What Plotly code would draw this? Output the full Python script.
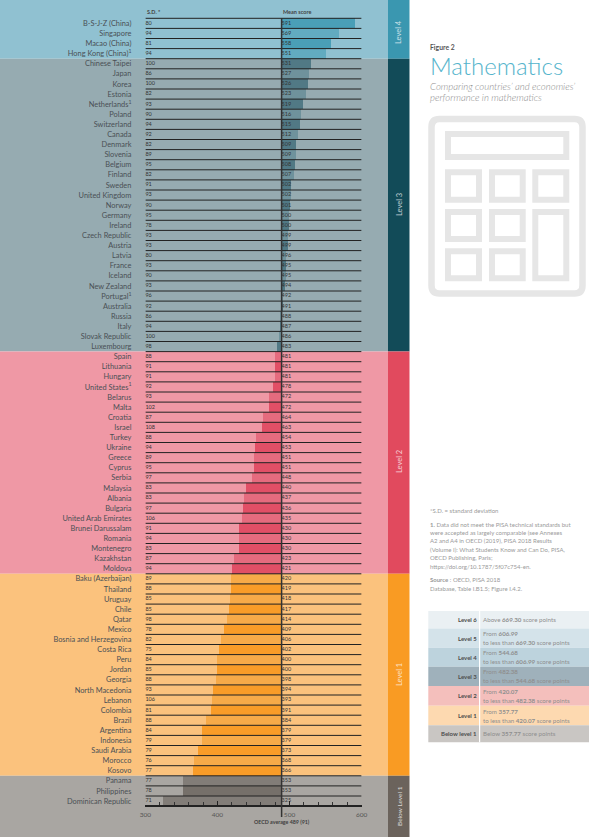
import plotly.graph_objects as go

W, H = 589, 837
FONT = "Lato"

countries = ["B-S-J-Z (China)", "Singapore", "Macao (China)", "Hong Kong (China)<sup>1</sup>",
    "Chinese Taipei", "Japan", "Korea", "Estonia", "Netherlands<sup>1</sup>", "Poland", "Switzerland", "Canada",
    "Denmark", "Slovenia", "Belgium", "Finland", "Sweden", "United Kingdom", "Norway", "Germany", "Ireland",
    "Czech Republic", "Austria", "Latvia", "France", "Iceland", "New Zealand", "Portugal<sup>1</sup>", "Australia",
    "Russia", "Italy", "Slovak Republic", "Luxembourg",
    "Spain", "Lithuania", "Hungary", "United States<sup>1</sup>", "Belarus", "Malta", "Croatia", "Israel", "Turkey",
    "Ukraine", "Greece", "Cyprus", "Serbia", "Malaysia", "Albania", "Bulgaria", "United Arab Emirates",
    "Brunei Darussalam", "Romania", "Montenegro", "Kazakhstan", "Moldova",
    "Baku (Azerbaijan)", "Thailand", "Uruguay", "Chile", "Qatar", "Mexico", "Bosnia and Herzegovina", "Costa Rica",
    "Peru", "Jordan", "Georgia", "North Macedonia", "Lebanon", "Colombia", "Brazil", "Argentina", "Indonesia",
    "Saudi Arabia", "Morocco", "Kosovo",
    "Panama", "Philippines", "Dominican Republic"]
mean_scores = [591, 569, 558, 551,
    531, 527, 526, 523, 519, 516, 515, 512, 509, 509, 508, 507, 502, 502, 501, 500, 500, 499, 499, 496, 495, 495,
    494, 492, 491, 488, 487, 486, 483,
    481, 481, 481, 478, 472, 472, 464, 463, 454, 453, 451, 451, 448, 440, 437, 436, 435, 430, 430, 430, 423, 421,
    420, 419, 418, 417, 414, 409, 406, 402, 400, 400, 398, 394, 393, 391, 384, 379, 379, 373, 368, 366,
    353, 353, 325]
std_devs = [80, 94, 81, 94,
    100, 86, 100, 82, 93, 90, 94, 92, 82, 89, 95, 82, 91, 93, 90, 95, 78, 93, 93, 80, 93, 90,
    93, 96, 92, 86, 94, 100, 98,
    88, 91, 91, 92, 93, 102, 87, 108, 88, 94, 89, 95, 97, 83, 83, 97, 106, 91, 94, 83, 87, 94,
    89, 88, 85, 85, 98, 78, 82, 75, 84, 85, 88, 93, 106, 81, 88, 84, 79, 79, 76, 77,
    77, 78, 71]
oecd_average = 489

level_names = ["Level 4", "Level 3", "Level 2", "Level 1", "Below Level 1"]
level_counts = [4, 29, 22, 20, 3]
band_colors = ["#90C1D1", "#96ABB1", "#EF98A5", "#FBC27D", "#A9A6A2"]
strip_colors = ["#3A97B0", "#124B58", "#E14A5E", "#F99B23", "#6B635C"]
bar_dark = ["#4A9FB7", "#517985", "#E14F66", "#F99C28", "#76706A"]
bar_light = ["#62ABC0", "#6F929C", "#E56B7E", "#F7AA48", "#827D78"]

legend_levels = ["Level 6", "Level 5", "Level 4", "Level 3", "Level 2", "Level 1", "Below level 1"]
legend_line1 = ["Above <b>669.30</b> score points", "From <b>606.99</b>", "From <b>544.68</b>", "From <b>482.38</b>",
                "From <b>420.07</b>", "From <b>357.77</b>", "Below <b>357.77</b> score points"]
legend_line2 = [None, "to less than <b>669.30</b> score points", "to less than <b>606.99</b> score points",
                "to less than <b>544.68</b> score points", "to less than <b>482.38</b> score points",
                "to less than <b>420.07</b> score points", None]
legend_colors = ["#EAF0F3", "#D4E3EA", "#BDD3DD", "#9FB1BB", "#F4BFBC", "#FDD9B0", "#C9C6C3"]
legend_edges = [611, 628.6, 647.7, 666.7, 686, 705.7, 725.3, 742.3]

notes = [(510, "*S.D. = standard deviation"),
         (524, "<b>1.</b> Data did not meet the PISA technical standards but"),
         (532.5, "were accepted as largely comparable (see Annexes"),
         (540.5, "A2 and A4 in OECD (2019), PISA 2018 Results"),
         (549, "(Volume I): What Students Know and Can Do, PISA,"),
         (557.5, "OECD Publishing, Paris;"),
         (566, "https://doi.org/10.1787/5f07c754-en."),
         (579.5, "<b>Source</b> : OECD, PISA 2018"),
         (588, "Database, Table I.B1.5; Figure I.4.2.")]

# pixel geometry of the plot
ROW = 10.1
TOP = 18.3
X300, X600 = 145.4, 361.6
AXIS_Y = TOP + ROW * len(countries)


def px(x):
    return x / W


def py(y):
    return 1 - y / H


def row_of(y):
    return (y - TOP) / ROW - 0.5


level_of_row = []
for li, c in enumerate(level_counts):
    level_of_row += [li] * c
colors = [(bar_dark if i % 2 == 0 else bar_light)[level_of_row[i]] for i in range(len(countries))]

fig = go.Figure()
fig.add_bar(y=countries, x=[m - oecd_average for m in mean_scores], base=oecd_average, orientation="h", width=1,
            marker=dict(color=colors, line=dict(width=0)), showlegend=False, hoverinfo="skip")
fig.add_scatter(y=countries, x=[300] * len(countries), text=[str(s) for s in std_devs], mode="text",
                textposition="middle right", textfont=dict(family=FONT, size=5.5, color="#333"),
                showlegend=False, cliponaxis=False)
fig.add_scatter(y=countries, x=[oecd_average] * len(countries), text=[str(m) for m in mean_scores], mode="text",
                textposition="middle right", textfont=dict(family=FONT, size=5.5, color="#333"),
                showlegend=False, cliponaxis=False)

shapes = []
ann = []


def rect(x0, y0, x1, y1, color, layer="below"):
    shapes.append(dict(type="rect", xref="paper", yref="paper", x0=px(x0), x1=px(x1), y0=py(y0), y1=py(y1),
                       fillcolor=color, line=dict(width=0), layer=layer))


def text(x, y, s, size, color="#666", anchor="left", angle=0, family=FONT):
    ann.append(dict(xref="paper", yref="paper", x=px(x), y=py(y), text=s, showarrow=False, xanchor=anchor,
                    yanchor="middle", textangle=angle, align=anchor if anchor != "center" else "center",
                    font=dict(family=family, size=size, color=color), borderpad=0))


# Level bands and side strips
edge = 0
label_y = [32, 205, 462, 675, 806]
for li, c in enumerate(level_counts):
    start_y = 0 if li == 0 else edge
    edge = TOP + ROW * (sum(level_counts[:li + 1])) if li < len(level_counts) - 1 else H
    rect(0, start_y, 388, edge, band_colors[li])
    rect(388, start_y, 409.5, edge, strip_colors[li])
    text(399, label_y[li], level_names[li], 6.5 if li == 4 else 7.5,
         "rgba(255,255,255,0.75)", "center", -90)

# Row rules
for i in range(len(countries)):
    shapes.append(dict(type="line", xref="x", yref="y", x0=300, x1=600, y0=i - 0.5, y1=i - 0.5,
                       line=dict(color="#222", width=1), layer="above"))
# OECD average line
shapes.append(dict(type="line", xref="x", yref="paper", x0=oecd_average, x1=oecd_average,
                   y0=py(817), y1=py(TOP), line=dict(color="#333", width=1.5), layer="above"))

text(146, 12, "<b>S.D. *</b>", 5.5, "#444")
text(282, 12.3, "<b>Mean score</b>", 5.5, "#444")
text(281.5, 821.8, "<b>OECD average 489 (91)</b>", 5.3, "#3d3d3d", "center")

# Header block
text(429, 46.5, "<b>Figure 2</b>", 6.8, "#555")
text(429, 66, "Mathematics", 24, "#55B4CC", family="Lato Light")
text(429, 86.5, "<i>Comparing countries’ and economies’</i>", 9.6, "#8c8c8c", family="Lato Light")
text(429, 97.5, "<i>performance in mathematics</i>", 9.6, "#8c8c8c", family="Lato Light")

# Calculator icon
ICON = "#E6E6E6"
x0, x1, y0, y1 = 431.5, 582.5, 119, 293.5
r = 8
path = (f"M {px(x0 + r)} {py(y0)} L {px(x1 - r)} {py(y0)} Q {px(x1)} {py(y0)} {px(x1)} {py(y0 + r)} "
        f"L {px(x1)} {py(y1 - r)} Q {px(x1)} {py(y1)} {px(x1 - r)} {py(y1)} L {px(x0 + r)} {py(y1)} "
        f"Q {px(x0)} {py(y1)} {px(x0)} {py(y1 - r)} L {px(x0)} {py(y0 + r)} Q {px(x0)} {py(y0)} {px(x0 + r)} {py(y0)} Z")
shapes.append(dict(type="path", xref="paper", yref="paper", path=path, line=dict(color=ICON, width=6.5), layer="below"))
icon_cells = [(445, 131, 569.3, 160), (445, 169.3, 482, 202.7), (489, 169.3, 525.7, 202.7), (532.3, 169.3, 569.3, 202.7),
              (445, 209, 482, 242), (489, 209, 525.7, 242), (532.3, 209, 569.3, 281.3),
              (445, 248.3, 482, 281.3), (489, 248.3, 525.7, 281.3)]
for a, b, c, d in icon_cells:
    shapes.append(dict(type="rect", xref="paper", yref="paper", x0=px(a + 3), x1=px(c - 3), y0=py(b + 3), y1=py(d - 3),
                       line=dict(color=ICON, width=6), fillcolor="rgba(0,0,0,0)", layer="below"))

# Notes
for y, s in notes:
    text(429, y, s, 6, "#9a9a9a")

# Level table
for i, name in enumerate(legend_levels):
    t, b = legend_edges[i], legend_edges[i + 1]
    rect(428.3, t, 589, b, legend_colors[i])
    mid = (t + b) / 2
    text(477.5, mid, f"<b>{name}</b>", 6, "#4d4d4d", "right")
    if legend_line2[i] is None:
        text(482, mid, legend_line1[i], 6.2, "#8f8f8f")
    else:
        text(482, mid - 4.5, legend_line1[i], 6.2, "#8f8f8f")
        text(482, mid + 4.5, legend_line2[i], 6.2, "#8f8f8f")
rect(479, 611, 480.2, 742.3, "#FFFFFF")

fig.update_layout(
    width=W, height=H, margin=dict(l=0, r=0, t=0, b=0, autoexpand=False), paper_bgcolor="white",
    plot_bgcolor="rgba(0,0,0,0)", bargap=0, shapes=shapes, annotations=ann, showlegend=False,
    xaxis=dict(domain=[px(X300), px(X600)], range=[300, 600], anchor="free", position=py(AXIS_Y),
               showline=True, linecolor="#222", linewidth=2, showgrid=False, zeroline=False,
               tickmode="linear", tick0=300, dtick=100, ticks="inside", ticklen=4, tickcolor="#222", tickwidth=1,
               minor=dict(dtick=20, ticks="inside", ticklen=3, tickcolor="#333", tickwidth=1, showgrid=False),
               ticklabelstandoff=2, tickfont=dict(family=FONT, size=6.5, color="#555")),
    yaxis=dict(domain=[0, 1], type="category", categoryorder="array", categoryarray=countries,
               range=[row_of(H), row_of(0)], anchor="x", showline=False, showgrid=False, zeroline=False,
               ticks="", ticklabelstandoff=13, tickmode="array", tickvals=countries, ticktext=countries,
               tickfont=dict(family=FONT, size=7.4, color="#4a5055")),
)
fig.write_html("out.html", config=dict(displayModeBar=False),
               post_script="document.body.style.margin='0';document.body.style.overflow='hidden';")
